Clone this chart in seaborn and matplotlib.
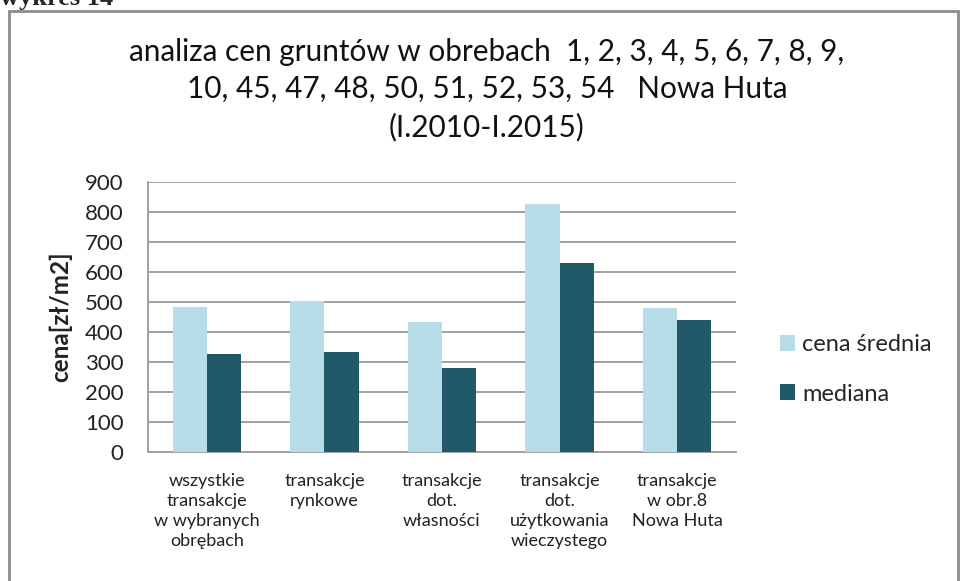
import matplotlib
matplotlib.use("Agg")
import matplotlib.pyplot as plt
import seaborn as sns
import pandas as pd
from matplotlib.patches import Rectangle

# data
kategorie = [
    "wszystkie\ntransakcje\nw wybranych\nobrębach",
    "transakcje\nrynkowe",
    "transakcje\ndot.\nwłasności",
    "transakcje\ndot.\nużytkowania\nwieczystego",
    "transakcje\nw obr.8\nNowa Huta",
]
cena_srednia = [484, 504, 432, 825, 479]
mediana = [326, 335, 279, 628, 441]
serie = ["cena średnia", "mediana"]
kolory = ["#B7DDE8", "#215968"]

df = pd.DataFrame({
    "kategoria": kategorie * 2,
    "cena": cena_srednia + mediana,
    "seria": [serie[0]] * len(kategorie) + [serie[1]] * len(kategorie),
})

sns.set_style("white")
plt.rcParams["font.family"] = ["Lato", "DejaVu Sans"]

fig = plt.figure(figsize=(9.6, 5.81), dpi=100)
ax = fig.add_axes([148 / 960, 1 - 452.3 / 581, (736 - 148) / 960, (452.3 - 181.7) / 581])

sns.barplot(data=df, x="kategoria", y="cena", hue="seria", palette=kolory,
            width=0.58, saturation=1, ax=ax, zorder=3, edgecolor="none")

ax.set_ylim(0, 900)
ax.set_yticks(range(0, 901, 100))
ax.yaxis.grid(True, color="#a0a0a0", linewidth=1.4, zorder=0)
ax.set_axisbelow(True)
ax.tick_params(axis="y", labelsize=16, length=6.5, color="#a0a0a0", width=1.4, pad=11, labelcolor="#222222")
ax.tick_params(axis="x", labelsize=13, length=0, pad=15, labelcolor="#222222")
for s in ["top", "right"]:
    ax.spines[s].set_visible(False)
for s in ["left", "bottom"]:
    ax.spines[s].set_color("#a0a0a0")
    ax.spines[s].set_linewidth(1.4)

ax.set_xlabel("")
ax.set_ylabel("cena[zł/m2]", fontsize=17.5, fontweight="bold", color="#222222")
ax.yaxis.set_label_coords(-0.129, 0.5)
for lab in ax.get_xticklabels():
    lab.set_linespacing(1.3)

ax.legend(loc="center left", bbox_to_anchor=(1.038, 0.306), frameon=False, fontsize=17,
          handlelength=0.65, handleheight=0.65, handletextpad=0.3, labelspacing=1.2)

fig.text(0.5 + 7 / 960, 1 - 38 / 581,
         "analiza cen gruntów w obrebach  1, 2, 3, 4, 5, 6, 7, 8, 9,\n"
         "10, 45, 47, 48, 50, 51, 52, 53, 54   Nowa Huta\n(I.2010-I.2015)",
         ha="center", va="top", fontsize=21.4, linespacing=1.4, color="#111111")

fig.text(0.0, 1 - 5 / 581, "wykres 14", family="Liberation Serif", fontweight="bold",
         fontsize=19, ha="left", va="baseline")
fig.patches.append(Rectangle((9 / 960, -0.05), 949 / 960, 1.05 - 11 / 581,
                             transform=fig.transFigure, fill=False,
                             edgecolor="#8c8c8c", linewidth=2))

fig.savefig("out.png", dpi=100)
